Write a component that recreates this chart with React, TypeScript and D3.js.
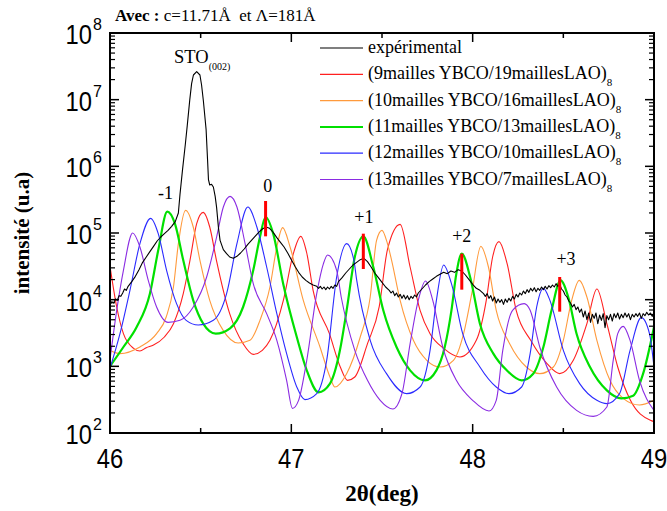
import React from 'react';
import * as d3 from 'd3';

const W = 667, H = 511;
const M = { left: 110, right: 654, top: 33, bottom: 433 };

const xMajor = [46, 47, 48, 49];
const xMinor = [46.5, 47.5, 48.5];
const yExp = [2, 3, 4, 5, 6, 7, 8];

// values: [2theta (deg), log10(intensity)]
const experimental: [number, number][] = [
  [46.00,3.92],[46.01,3.97],[46.02,3.95],[46.03,4.01],[46.04,3.99],[46.05,4.06],[46.06,4.05],[46.07,4.10],[46.08,4.16],[46.09,4.14],[46.10,4.20],[46.12,4.27],[46.14,4.35],[46.16,4.45],[46.18,4.56],[46.20,4.64],[46.22,4.72],[46.24,4.80],[46.26,4.88],[46.28,4.94],[46.30,4.99],[46.32,5.04],[46.34,5.10],[46.36,5.17],[46.377,5.30],
  [46.386,5.58],[46.40,5.95],[46.415,6.32],[46.426,6.61],[46.44,7.00],[46.45,7.24],[46.46,7.37],[46.478,7.42],[46.496,7.37],[46.505,7.22],[46.515,6.98],[46.53,6.55],[46.538,6.10],[46.543,5.80],[46.55,5.72],[46.56,5.73],[46.57,5.69],[46.58,5.55],[46.588,5.38],[46.598,5.08],[46.607,4.89],[46.625,4.75],[46.643,4.69],[46.66,4.64],[46.68,4.62],
  [46.70,4.65],[46.72,4.70],[46.74,4.76],[46.76,4.83],[46.78,4.89],[46.80,4.95],[46.82,5.01],[46.84,5.06],[46.86,5.09],[46.88,5.07],[46.90,5.01],[46.92,4.93],[46.94,4.86],[46.96,4.79],[46.98,4.70],[47.00,4.60],[47.02,4.50],[47.04,4.41],[47.06,4.34],[47.08,4.29],[47.10,4.25],[47.12,4.22],[47.14,4.20],[47.15,4.17],[47.16,4.20],[47.17,4.16],[47.18,4.19],[47.19,4.15],[47.20,4.19],[47.21,4.16],[47.22,4.20],[47.23,4.17],[47.24,4.22],[47.25,4.20],[47.26,4.27],[47.28,4.33],[47.30,4.40],[47.32,4.46],[47.34,4.52],[47.36,4.56],[47.38,4.60],[47.40,4.62],[47.42,4.57],[47.44,4.49],[47.46,4.40],[47.48,4.33],[47.50,4.26],[47.52,4.19],[47.54,4.14],[47.55,4.10],[47.56,4.13],[47.57,4.06],[47.58,4.10],[47.59,4.04],[47.60,4.08],[47.61,4.02],[47.62,4.07],[47.63,4.01],[47.64,4.06],[47.65,4.00],[47.66,4.05],[47.67,4.02],[47.68,4.07],[47.69,4.04],[47.70,4.10],[47.72,4.16],[47.74,4.22],[47.76,4.27],[47.78,4.31],[47.80,4.35],[47.82,4.38],[47.84,4.41],[47.86,4.39],[47.88,4.43],[47.90,4.41],[47.92,4.45],[47.94,4.43],[47.96,4.37],[47.98,4.30],[48.00,4.23],[48.02,4.17],[48.04,4.14],[48.06,4.09],[48.07,4.05],[48.08,4.09],[48.09,4.02],[48.10,4.06],[48.11,3.98],[48.12,4.04],[48.13,3.95],[48.14,4.01],[48.15,3.96],[48.16,4.00],[48.17,3.93],[48.18,4.01],[48.19,3.96],[48.20,4.02],[48.21,3.98],[48.22,4.05],[48.23,4.01],[48.24,4.08],[48.25,4.04],[48.26,4.10],[48.27,4.07],[48.28,4.13],[48.29,4.09],[48.30,4.15],[48.31,4.11],[48.32,4.17],[48.33,4.13],[48.34,4.18],[48.35,4.12],[48.36,4.17],[48.37,4.14],[48.38,4.19],[48.39,4.15],[48.40,4.20],[48.41,4.16],[48.42,4.21],[48.43,4.18],[48.44,4.22],[48.45,4.19],[48.46,4.24],[48.47,4.20],[48.48,4.23],[48.49,4.16],[48.50,4.13],[48.51,4.07],[48.52,4.04],[48.53,3.98],[48.54,3.95],[48.55,3.89],[48.56,3.93],[48.57,3.85],[48.58,3.89],[48.59,3.81],[48.60,3.86],[48.61,3.74],[48.62,3.83],[48.63,3.70],[48.64,3.80],[48.65,3.66],[48.66,3.78],[48.67,3.72],[48.68,3.80],[48.69,3.64],[48.70,3.77],[48.71,3.69],[48.72,3.79],[48.73,3.58],[48.74,3.76],[48.75,3.70],[48.76,3.78],[48.77,3.68],[48.78,3.79],[48.79,3.73],[48.80,3.80],[48.81,3.71],[48.82,3.78],[48.83,3.73],[48.84,3.80],[48.85,3.74],[48.86,3.79],[48.87,3.70],[48.88,3.78],[48.89,3.74],[48.90,3.79],[48.91,3.75],[48.92,3.80],[48.93,3.72],[48.94,3.79],[48.95,3.76],[48.96,3.81],[48.97,3.77],[48.98,3.80],[48.99,3.75],[49.00,3.79]
];

const sim9_19: [number, number][] = [
  [46.00,4.50],[46.037,3.89],[46.074,3.49],[46.13,3.27],[46.165,3.23],[46.20,3.28],[46.24,3.32],[46.30,3.44],[46.35,3.64],[46.404,4.09],[46.441,4.59],[46.478,5.14],[46.514,5.31],[46.55,5.09],[46.587,4.59],[46.66,3.79],[46.734,3.34],[46.79,3.18],[46.84,3.24],[46.882,3.39],[46.956,3.99],[47.011,4.69],[47.052,4.95],[47.085,4.70],[47.12,4.14],[47.21,3.49],[47.27,2.99],[47.31,2.79],[47.35,2.84],[47.42,3.34],[47.485,3.90],[47.53,4.75],[47.60,5.13],[47.655,4.49],[47.71,3.84],[47.765,3.49],[47.84,3.27],[47.93,3.14],[48.02,3.39],[48.075,3.99],[48.11,4.64],[48.145,4.87],[48.19,4.54],[48.24,3.84],[48.32,3.39],[48.41,3.04],[48.48,2.89],[48.555,3.09],[48.63,3.64],[48.685,4.16],[48.74,3.64],[48.80,2.99],[48.87,2.49],[48.98,2.19],[49.00,2.17]
];

const sim10_16: [number, number][] = [
  [46.00,3.24],[46.055,3.19],[46.165,3.29],[46.257,3.49],[46.31,3.74],[46.35,4.19],[46.377,4.84],[46.417,5.34],[46.459,5.09],[46.496,4.59],[46.55,3.99],[46.624,3.54],[46.707,3.35],[46.772,3.39],[46.827,3.69],[46.882,4.19],[46.92,4.79],[46.952,5.08],[46.993,4.79],[47.066,3.99],[47.158,3.29],[47.213,2.84],[47.24,2.69],[47.305,2.89],[47.38,3.44],[47.435,4.04],[47.47,4.89],[47.50,5.04],[47.53,4.84],[47.553,4.59],[47.60,3.99],[47.673,3.39],[47.747,3.09],[47.82,2.99],[47.894,3.09],[47.95,3.49],[47.995,4.09],[48.045,4.80],[48.087,4.49],[48.13,3.84],[48.204,3.34],[48.296,2.99],[48.37,2.89],[48.445,2.99],[48.50,3.39],[48.546,3.99],[48.588,4.29],[48.63,4.04],[48.685,3.39],[48.757,2.79],[48.83,2.52],[48.92,2.42],[49.00,2.49]
];

const sim11_13: [number, number][] = [
  [46.00,3.00],[46.074,3.29],[46.147,3.59],[46.22,4.09],[46.266,4.74],[46.316,5.32],[46.358,5.14],[46.404,4.59],[46.459,3.99],[46.514,3.64],[46.583,3.49],[46.662,3.57],[46.734,3.89],[46.79,4.44],[46.827,4.94],[46.858,5.24],[46.90,4.99],[46.955,4.24],[47.03,3.44],[47.085,2.94],[47.15,2.61],[47.213,2.74],[47.268,3.24],[47.305,3.84],[47.35,4.64],[47.397,4.95],[47.452,4.49],[47.507,3.84],[47.58,3.29],[47.655,2.94],[47.737,2.79],[47.80,2.94],[47.846,3.29],[47.883,3.84],[47.91,4.39],[47.94,4.69],[47.986,4.34],[48.04,3.64],[48.114,3.19],[48.188,2.94],[48.27,2.79],[48.334,2.89],[48.39,3.29],[48.435,3.84],[48.485,4.29],[48.527,4.04],[48.573,3.49],[48.647,2.99],[48.74,2.64],[48.82,2.52],[48.885,2.56],[48.94,2.89],[49.00,3.59]
];

const sim12_10: [number, number][] = [
  [46.00,2.97],[46.055,3.49],[46.11,4.14],[46.165,4.84],[46.224,5.22],[46.266,4.99],[46.312,4.44],[46.367,3.94],[46.42,3.69],[46.487,3.62],[46.57,3.69],[46.643,4.09],[46.70,4.84],[46.76,5.39],[46.81,5.09],[46.864,4.49],[46.92,3.79],[46.974,3.19],[47.03,2.69],[47.075,2.50],[47.14,2.59],[47.195,3.09],[47.25,4.34],[47.305,4.84],[47.345,4.59],[47.36,4.30],[47.435,3.39],[47.525,2.89],[47.636,2.59],[47.71,2.69],[47.765,3.24],[47.80,3.99],[47.84,4.52],[47.883,4.24],[47.945,3.49],[48.04,2.99],[48.13,2.69],[48.20,2.59],[48.27,2.69],[48.317,3.19],[48.353,3.89],[48.39,4.17],[48.426,3.99],[48.50,3.24],[48.59,2.74],[48.685,2.49],[48.74,2.44],[48.81,2.59],[48.868,3.24],[48.93,3.73],[48.975,3.49],[49.00,2.99]
];

const sim13_7: [number, number][] = [
  [46.00,3.10],[46.037,3.84],[46.074,4.44],[46.125,5.00],[46.165,4.79],[46.211,4.29],[46.257,3.89],[46.32,3.66],[46.386,3.69],[46.459,3.89],[46.533,4.34],[46.588,4.94],[46.625,5.39],[46.662,5.55],[46.70,5.39],[46.745,4.84],[46.79,4.24],[46.864,3.79],[46.92,3.39],[46.974,2.79],[47.006,2.37],[47.04,2.49],[47.085,3.09],[47.14,4.09],[47.177,4.54],[47.20,4.67],[47.25,4.44],[47.275,4.04],[47.35,3.24],[47.42,2.79],[47.49,2.49],[47.56,2.36],[47.61,2.59],[47.655,3.34],[47.70,3.99],[47.74,4.28],[47.78,3.99],[47.835,3.29],[47.91,2.79],[48.00,2.49],[48.09,2.33],[48.13,2.49],[48.166,3.24],[48.22,3.84],[48.284,3.94],[48.317,3.84],[48.37,3.29],[48.463,2.69],[48.573,2.34],[48.665,2.25],[48.74,2.39],[48.775,3.09],[48.80,3.49],[48.83,3.60],[48.868,3.39],[48.92,2.79],[49.00,2.34]
];

const seriesNames = [
  'expérimental',
  '(9mailles YBCO/19maillesLAO)',
  '(10mailles YBCO/16maillesLAO)',
  '(11mailles YBCO/13maillesLAO)',
  '(12mailles YBCO/10maillesLAO)',
  '(13mailles YBCO/7maillesLAO)',
];
const seriesColors = ['#000000', '#ff2020', '#ff9a3c', '#00e000', '#2a2aff', '#8a2be2'];
const seriesWidths = [1.1, 1.1, 1.1, 2.2, 1.1, 1.1];
const seriesData = [experimental, sim9_19, sim10_16, sim11_13, sim12_10, sim13_7];

// satellite order labels and marks
const satLabels = ['-1', '0', '+1', '+2', '+3'];
const satX = [46.306, 46.87, 47.40, 47.94, 48.515];
const satLabelLog = [5.51, 5.61, 5.15, 4.86, 4.52];
const markX = [46.858, 47.397, 47.94, 48.48];
const markTop = [5.48, 4.99, 4.69, 4.34];
const markBottom = [4.95, 4.46, 4.15, 3.82];

const serif = 'Liberation Serif';
const sans = 'Liberation Sans';

export default function App() {
  const x = d3.scaleLinear().domain([46, 49]).range([M.left, M.right]);
  const y = d3.scaleLog().domain([1e2, 1e8]).range([M.bottom, M.top]);
  const py = (v: number) => y(Math.pow(10, v));

  const simLine = d3.line<[number, number]>()
    .x(d => x(d[0])).y(d => py(d[1])).curve(d3.curveMonotoneX);
  const expLine = d3.line<[number, number]>()
    .x(d => x(d[0])).y(d => py(d[1])).curve(d3.curveLinear);

  const minorY: number[] = [];
  for (let e = 2; e < 8; e++) for (let k = 2; k <= 9; k++) minorY.push(k * Math.pow(10, e));

  const legX1 = 320, legX2 = 363, legTextX = 368, legY0 = 48, legDy = 26.3;

  return (
    <svg width={W} height={H} style={{ position: 'absolute', left: 0, top: 0, background: '#fff' }}>
      <rect x={0} y={0} width={W} height={H} fill="#fff" />
      <defs>
        <clipPath id="plotClip">
          <rect x={M.left} y={M.top} width={M.right - M.left} height={M.bottom - M.top} />
        </clipPath>
      </defs>

      {/* curves */}
      <g clipPath="url(#plotClip)">
        {seriesData.map((d, i) => i === 0 ? null : (
          <path key={i} d={simLine(d) || ''} fill="none" stroke={seriesColors[i]} strokeWidth={seriesWidths[i]} strokeLinejoin="round" />
        ))}
        <path d={expLine(experimental) || ''} fill="none" stroke="#000" strokeWidth={1.1} strokeLinejoin="round" />
      </g>

      {/* red marks */}
      {markX.map((mx, i) => (
        <line key={i} x1={x(mx)} x2={x(mx)} y1={py(markTop[i])} y2={py(markBottom[i])} stroke="#ff0000" strokeWidth={3} />
      ))}

      {/* satellite labels */}
      {satLabels.map((s, i) => (
        <text key={i} x={x(satX[i])} y={py(satLabelLog[i])} textAnchor="middle" fontFamily={serif} fontSize={18} fill="#000">{s}</text>
      ))}

      {/* STO label */}
      <text x={174} y={63} fontFamily={serif} fontSize={18.5}>STO<tspan fontSize={10} dy={7}>(002)</tspan></text>

      {/* frame */}
      <rect x={M.left} y={M.top} width={M.right - M.left} height={M.bottom - M.top} fill="none" stroke="#000" strokeWidth={2} />

      {/* x ticks */}
      {xMajor.map(t => (
        <g key={'xM' + t}>
          <line x1={x(t)} x2={x(t)} y1={M.bottom} y2={M.bottom - 9} stroke="#000" strokeWidth={1.5} />
          <line x1={x(t)} x2={x(t)} y1={M.top} y2={M.top + 9} stroke="#000" strokeWidth={1.5} />
          <text x={x(t)} y={468} textAnchor="middle" fontFamily={sans} fontSize={27} transform={`translate(${x(t)},0) scale(0.88,1) translate(${-x(t)},0)`}>{t}</text>
        </g>
      ))}
      {xMinor.map(t => (
        <g key={'xm' + t}>
          <line x1={x(t)} x2={x(t)} y1={M.bottom} y2={M.bottom - 5} stroke="#000" strokeWidth={1.5} />
          <line x1={x(t)} x2={x(t)} y1={M.top} y2={M.top + 5} stroke="#000" strokeWidth={1.5} />
        </g>
      ))}

      {/* y ticks */}
      {yExp.map(e => {
        const yy = py(e);
        return (
          <g key={'yM' + e}>
            <line x1={M.left} x2={M.left + 9} y1={yy} y2={yy} stroke="#000" strokeWidth={1.5} />
            <line x1={M.right} x2={M.right - 9} y1={yy} y2={yy} stroke="#000" strokeWidth={1.5} />
            <text x={92} y={yy + 11} textAnchor="end" fontFamily={sans} fontSize={27} transform={`translate(92,0) scale(0.88,1) translate(-92,0)`}>10</text>
            <text x={93} y={yy - 3} textAnchor="start" fontFamily={sans} fontSize={16}>{e}</text>
          </g>
        );
      })}
      {minorY.map(v => (
        <g key={'ym' + v}>
          <line x1={M.left} x2={M.left + 5} y1={y(v)} y2={y(v)} stroke="#000" strokeWidth={1.2} />
          <line x1={M.right} x2={M.right - 5} y1={y(v)} y2={y(v)} stroke="#000" strokeWidth={1.2} />
        </g>
      ))}

      {/* axis titles */}
      <text x={382} y={501} textAnchor="middle" fontFamily={serif} fontWeight="bold" fontSize={23}>2θ(deg)</text>
      <text transform="translate(29,233) rotate(-90)" textAnchor="middle" fontFamily={serif} fontWeight="bold" fontSize={21}>intensité (u.a)</text>

      {/* title */}
      <text x={115} y={21} fontFamily={serif} fontSize={17}><tspan fontWeight="bold">Avec : </tspan>{'c=11.71Å\u00a0\u00a0et Λ=181Å'}</text>

      {/* legend */}
      {seriesNames.map((n, i) => {
        const ly = legY0 + i * legDy;
        return (
          <g key={'leg' + i}>
            <line x1={legX1} x2={legX2} y1={ly} y2={ly} stroke={seriesColors[i]} strokeWidth={i === 3 ? 2 : 1.2} />
            <text x={legTextX} y={ly + 5} fontFamily={serif} fontSize={18}>{n}{i > 0 ? <tspan fontSize={11} dy={7}>8</tspan> : null}</text>
          </g>
        );
      })}
    </svg>
  );
}
